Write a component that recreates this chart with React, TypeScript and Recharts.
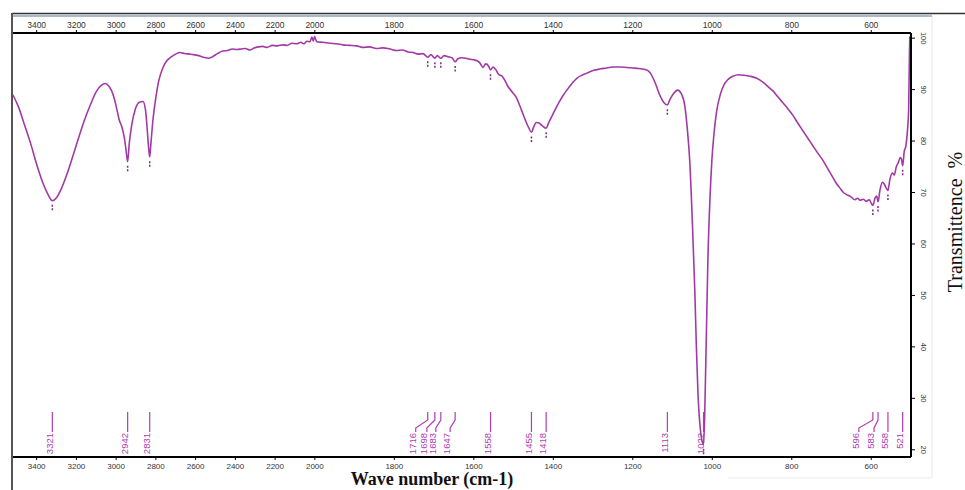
import { LineChart, Line, XAxis, YAxis, ReferenceLine } from 'recharts'

// spectrum (wavenumber cm-1, transmittance %)
const wavenumbers = [
  3520, 3490, 3460, 3430, 3400, 3370, 3345, 3321, 3300, 3275, 3250, 3220, 3190, 3160, 3130, 3100, 3075, 3055, 3035, 3015,
  3000, 2985, 2970, 2958, 2950, 2942, 2934, 2920, 2905, 2885, 2865, 2852, 2843, 2836, 2831, 2825, 2815, 2800, 2785, 2765,
  2745, 2725, 2700, 2680, 2655, 2630, 2610, 2585, 2560, 2535, 2515, 2490, 2463, 2440, 2415, 2392, 2370, 2350, 2327, 2305,
  2285, 2262, 2240, 2215, 2190, 2161, 2140, 2115, 2091, 2070, 2055, 2040, 2025, 2015, 2008, 2002, 1995, 1980, 1962, 1945,
  1930, 1912, 1895, 1880, 1862, 1845, 1830, 1811, 1795, 1780, 1765, 1753, 1740, 1728, 1716, 1708, 1698, 1692, 1683, 1675,
  1665, 1655, 1647, 1640, 1630, 1620, 1610, 1600, 1592, 1585, 1577, 1570, 1563, 1558, 1552, 1545, 1537, 1530, 1522, 1514,
  1503, 1492, 1484, 1477, 1470, 1462, 1455, 1450, 1443, 1436, 1428, 1418, 1412, 1405, 1396, 1385, 1375, 1366, 1353, 1341,
  1328, 1316, 1300, 1283, 1265, 1250, 1230, 1215, 1200, 1185, 1165, 1157, 1150, 1142, 1132, 1122, 1113, 1107, 1097, 1087,
  1078, 1069, 1063, 1057, 1050, 1044, 1040, 1036, 1030, 1025, 1022, 1019, 1015, 1011, 1006, 1001, 995, 989, 980, 970,
  960, 948, 935, 920, 905, 888, 872, 857, 848, 835, 823, 810, 797, 785, 772, 760, 747, 735, 722, 710,
  697, 688, 679, 670, 662, 652, 641, 635, 628, 620, 613, 605, 600, 596, 590, 586, 583, 578, 572, 567,
  562, 558, 553, 547, 542, 537, 532, 527, 524, 521, 517, 513, 510, 508, 506, 505, 504, 503,
]
const transmittance = [
  89.0, 86.5, 83.0, 79.5, 75.5, 72.0, 69.8, 68.4, 69.0, 70.8, 73.3, 76.8, 80.5, 84.0, 87.0, 89.6, 90.8, 91.2, 90.6, 89.0,
  86.8, 84.2, 82.6, 80.5, 78.2, 76.0, 79.5, 83.5, 86.0, 87.5, 87.7, 86.0, 82.0, 78.5, 76.9, 79.5, 84.0, 88.5, 91.8, 94.2,
  95.6, 96.3, 96.9, 97.2, 97.0, 96.9, 96.8, 96.6, 96.3, 96.1, 96.4, 97.0, 97.5, 97.6, 97.9, 97.8, 97.9, 98.0, 97.7, 98.1,
  98.3, 98.4, 98.2, 98.6, 98.5, 98.7, 98.6, 99.0, 98.9, 99.2, 98.9, 99.4, 99.3, 100.2, 99.4, 100.3, 99.3, 99.2, 99.0, 98.9,
  98.7, 98.6, 98.5, 98.2, 98.3, 98.0, 98.1, 97.9, 97.6, 97.7, 97.3, 97.2, 96.9, 97.0, 96.3, 96.8, 96.1, 96.6, 96.1, 96.6,
  96.4, 96.2, 95.4, 96.0, 96.2, 96.1, 95.9, 95.8, 95.6, 95.2, 94.3, 95.0, 94.6, 93.8, 94.4, 93.9, 92.9, 92.7, 91.8, 90.6,
  89.5, 88.3, 86.8, 85.4, 84.0, 82.6, 81.7, 82.6, 83.6, 83.5, 83.0, 82.5, 83.5, 84.6, 86.0, 87.6, 88.9, 89.9, 91.2, 92.2,
  92.8, 93.2, 93.7, 94.0, 94.2, 94.4, 94.4, 94.3, 94.2, 94.1, 93.8, 93.3, 92.4, 91.0, 88.9, 87.5, 87.0, 88.0, 89.3, 89.9,
  89.2, 86.8, 82.5, 76.5, 64.0, 51.0, 40.0, 31.0, 24.0, 21.5, 21.0, 27.0, 42.0, 57.0, 68.5, 76.3, 82.0, 85.8, 89.0, 91.0,
  92.0, 92.6, 92.9, 92.8, 92.6, 92.2, 91.4, 90.4, 89.8, 88.6, 87.5, 86.3, 85.0, 83.5, 82.0, 80.6, 79.1, 77.7, 76.3, 74.7,
  73.0, 71.8, 70.9, 70.0, 69.6, 69.2, 68.6, 68.9, 68.5, 68.7, 68.3, 68.6, 67.9, 67.5, 69.0, 69.3, 68.2, 70.5, 72.0, 71.6,
  70.8, 70.4, 72.6, 73.8, 73.4, 75.0, 75.8, 76.8, 76.5, 75.2, 78.0, 79.0, 81.0, 83.0, 86.0, 91.0, 96.5, 100.3,
]

const peaks = [3321, 2942, 2831, 1716, 1698, 1683, 1647, 1558, 1455, 1418, 1113, 1022, 596, 583, 558, 521]
const xTickLabels = [3400, 3200, 3000, 2800, 2600, 2400, 2200, 2000, 1800, 1600, 1400, 1200, 1000, 800, 600]
const yTickLabels = [20, 30, 40, 50, 60, 70, 80, 90, 100]

// horizontal nudge (px) of crowded peak labels
const labelShift: Record<number, number> = { 1716: -15, 1698: -11, 1683: -8, 1647: -8, 596: -17, 583: -7 }

const PURPLE = '#a23aa6'
const LABEL = '#b03cb4'

// the x scale halves above 2000 cm-1
const SPLIT = 2000
const toAxis = (wn: number) => (wn > SPLIT ? SPLIT + (wn - SPLIT) / 2 : wn)
const fromAxis = (u: number) => Math.round(u > SPLIT ? SPLIT + (u - SPLIT) * 2 : u)

const data = wavenumbers.map((wn, i) => ({ u: toAxis(wn), t: transmittance[i] }))
const tValue = (wn: number) => transmittance[wavenumbers.indexOf(wn)]

const peakShape = (wn: number) => (p: any) => {
  const x = p.x1
  const bottom = Math.max(p.y1, p.y2)
  const shift = labelShift[wn]
  const lx = x + (shift ?? -3)
  const top = bottom - 45
  const textTop = bottom - 24
  const points = shift
    ? `${x},${top} ${x},${top + 8} ${lx + 3},${top + 16} ${lx + 3},${textTop - 1}`
    : `${x},${top} ${x},${textTop - 1}`
  return (
    <g>
      <polyline points={points} fill="none" stroke={LABEL} strokeWidth={1.2} />
      <text
        x={lx}
        y={textTop}
        transform={`rotate(-90 ${lx} ${textTop})`}
        textAnchor="end"
        dy="0.35em"
        fontSize={9.5}
        fontFamily="Liberation Sans, Arial, sans-serif"
        fill={LABEL}
      >
        {wn}
      </text>
    </g>
  )
}

const RightTick = (p: any) => (
  <text
    x={p.x}
    y={p.y}
    transform={`rotate(90 ${p.x} ${p.y})`}
    textAnchor="middle"
    dy="0.35em"
    fontSize={7.5}
    fontFamily="Liberation Sans, Arial, sans-serif"
    fill="#333"
  >
    {p.payload.value}
  </text>
)

const tickStyle = { fontSize: 8, fill: '#333', fontFamily: 'Liberation Sans, Arial, sans-serif' }

export default function App() {
  return (
    <div style={{ position: 'absolute', left: 0, top: 0, width: 965, height: 490, background: '#fff' }}>
      <LineChart width={965} height={490} data={data} margin={{ top: 0, right: 0, bottom: 0, left: 12 }}>
        <XAxis
          xAxisId="b"
          dataKey="u"
          type="number"
          domain={[500, 2762]}
          allowDataOverflow
          reversed
          ticks={xTickLabels.map(toAxis)}
          tickFormatter={fromAxis}
          height={33}
          tickSize={3}
          tickMargin={3}
          tick={tickStyle}
          axisLine={{ stroke: '#000', strokeWidth: 2 }}
          tickLine={{ stroke: '#000' }}
        />
        <XAxis
          xAxisId="t"
          orientation="top"
          dataKey="u"
          type="number"
          domain={[500, 2762]}
          allowDataOverflow
          reversed
          ticks={xTickLabels.map(toAxis)}
          tickFormatter={fromAxis}
          height={33}
          tickSize={3}
          tickMargin={2}
          tick={{ ...tickStyle, fontSize: 8.5 }}
          axisLine={{ stroke: '#000', strokeWidth: 2 }}
          tickLine={{ stroke: '#000' }}
        />
        <YAxis
          yAxisId="r"
          orientation="right"
          type="number"
          domain={[18.6, 101]}
          allowDataOverflow
          ticks={yTickLabels}
          width={54}
          tickSize={4}
          tickMargin={9}
          tick={RightTick}
          axisLine={{ stroke: '#000', strokeWidth: 2 }}
          tickLine={{ stroke: '#000' }}
        />
        {peaks.map((wn) => (
          <ReferenceLine
            key={`m${wn}`}
            xAxisId="b"
            yAxisId="r"
            segment={[
              { x: toAxis(wn), y: tValue(wn) - 0.8 },
              { x: toAxis(wn), y: tValue(wn) - 2.0 },
            ]}
            stroke="#7e2b86"
            strokeWidth={1.5}
            strokeDasharray="2 1.5"
          />
        ))}
        {peaks.map((wn) => (
          <ReferenceLine key={`l${wn}`} xAxisId="b" yAxisId="r" x={toAxis(wn)} shape={peakShape(wn)} />
        ))}
        <Line
          xAxisId="b"
          yAxisId="r"
          dataKey="t"
          type="monotoneX"
          dot={false}
          stroke={PURPLE}
          strokeWidth={1.6}
          isAnimationActive={false}
        />
      </LineChart>
      <svg width={965} height={490} style={{ position: 'absolute', left: 0, top: 0, pointerEvents: 'none' }}>
        <line x1={12} y1={13.5} x2={965} y2={13.5} stroke="#333" strokeWidth={1.5} />
        <rect x={12} y={14.5} width={920} height={2.5} fill="#aeb9c6" />
        <line x1={12} y1={13} x2={12} y2={490} stroke="#555" strokeWidth={2} />
        <line x1={932} y1={17} x2={932} y2={478} stroke="#e8e8e8" />
        <line x1={728} y1={478} x2={932} y2={478} stroke="#ececec" />
        <text
          x={432}
          y={485}
          textAnchor="middle"
          fontSize={18}
          fontWeight="bold"
          fontFamily="Liberation Serif, Times New Roman, serif"
          fill="#111"
        >
          Wave number (cm-1)
        </text>
        <text
          x={962}
          y={222}
          transform="rotate(-90 962 222)"
          textAnchor="middle"
          fontSize={20}
          fontFamily="Liberation Serif, Times New Roman, serif"
          fill="#111"
        >
          Transmittence<tspan dx={10}>%</tspan>
        </text>
      </svg>
    </div>
  )
}
